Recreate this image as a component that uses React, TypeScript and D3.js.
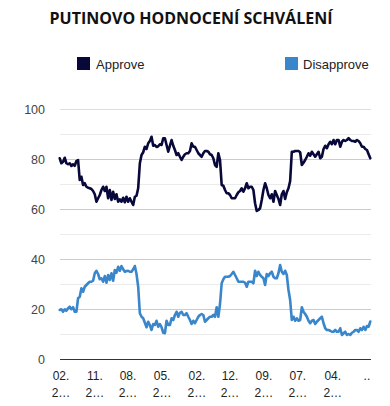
import React from "react";
import * as d3 from "d3";

const title = "PUTINOVO HODNOCENÍ SCHVÁLENÍ";
const seriesNames = ["Approve", "Disapprove"];
const seriesColors = ["#08083a", "#3a86cb"];

const approve = [
  80.3, 78.3, 78.9, 80.5, 78.3, 77.9, 78.3, 77.2, 77.9, 77.3, 79.2, 79.6, 71.6, 72.9, 69.6, 70.3,
  68.9, 68.5, 68.3, 68, 67.2, 65.9, 62.9, 64.3, 65.6, 67.6, 68.9, 67.2, 68.9, 64.3, 67.6, 63.6,
  66.9, 64, 65.9, 62.9, 63.9, 62.9, 64.5, 62.7, 64.9, 62.9, 64.3, 62.9, 61.6, 64.9, 65.3, 68.3,
  78.3, 81.6, 82.7, 84.9, 84, 86.3, 87.2, 88.9, 85.3, 85.6, 84.8, 85.1, 85.9, 85.6, 88.3,
  88.3, 85.6, 82.9, 85.3, 87.6, 85.3, 83.6, 81.6, 82.3, 80.9, 79.6, 80.9, 81.9, 82.3, 82.3, 83.2,
  86.3, 84.9, 84.9, 83.6, 82.3, 81.6, 80.9, 82.3, 83.2, 83.2, 82.9, 81.9, 81.6, 80.3, 77.6, 76.9,
  82.3, 79.6, 69.6, 69.3, 67.6, 66.3, 66.3, 65.6, 64.3, 64.3, 64.3, 65.6, 66.7, 67.2, 68.3, 66.9,
  68.3, 70.3, 68.3, 68.9, 68.9, 67.6, 62.3, 59.2, 59.6, 60.3, 63.6, 67.6, 70.3,
  68.3, 65.6, 64.3, 65.9, 62.9, 67.2, 65.6, 64, 61.6, 65.9, 67.2, 64, 66.7, 68.3, 71.2, 82.9,
  82.9, 83.2, 83.2, 83.2, 82.7, 77.6, 78.5, 79.6, 80.9, 82.3, 81.3, 82.9, 81.9, 80.9, 81.9, 82.9,
  80.3, 80.9, 84, 85.3, 84.3, 85.9, 86.9, 85.9, 87.6, 85.9, 87.6, 87.6, 84.9, 86.9, 87.6, 87.2,
  87.6, 88.3, 87.6, 87.2, 87.2, 86.9, 87.6, 87.2, 86.3, 84.9, 84.9, 84, 83.6, 81.9, 80.3,
];

const disapprove = [
  19.6, 19.9, 18.9, 19.9, 19.3, 20.3, 20.9, 19.9, 20.7, 18.9, 18.9, 24.3, 24.9, 28.3, 26.9, 28.9,
  29.6, 30.3, 30.9, 30.9, 31.3, 34.3, 35.3, 34, 31.9, 32.3, 30.9, 33.2, 30.5, 33.6, 31.6, 34.3,
  31.3, 35.6, 34.5, 36.9, 35.3, 37.2, 35.9, 34.9, 35.2, 35.3, 34.9, 34.9, 35.9, 37.2, 34, 28.9,
  18.3, 16.9, 16.3, 14.5, 12.7, 14.9, 13.6, 11.6, 14, 13.6, 15.3, 12.9, 14, 12.7, 10.5,
  10.3, 15.3, 13.6, 13.6, 16.3, 15.6, 17.6, 18.9, 16.9, 18.5, 18.9, 17.6, 17.6, 18.3, 16.9, 15.6,
  14, 15.3, 14.3, 15.6, 16.9, 17.6, 18, 17.6, 14.9, 15.6, 16.3, 16.9, 16.9, 17.6, 16.9, 20.7,
  16.9, 22, 30.3, 31.9, 32.9, 32.9, 32.9, 33.2, 34, 34.9, 33.6, 32.3, 30.9, 30.9, 30.9, 30.9,
  30.5, 28.9, 30.9, 30.9, 30.9, 30.3, 35.3, 33.2, 34.9, 33.6, 32.9, 32.3, 29.6,
  34, 33.2, 34.3, 34.9, 32.9, 32.3, 32.3, 34.3, 37.6, 34.9, 34, 35.3, 33.6, 27.6, 23.6, 15.6,
  16.9, 15.3, 16.3, 15.3, 15.6, 20.7, 18.9, 18, 16.9, 15.3, 14.3, 15.3, 15.6, 14, 14.9, 15.6,
  16.3, 16.9, 14.3, 12.3, 11.6, 11.6, 11.3, 10.9, 10.9, 11.6, 10.9, 10.9, 12.3, 9.6, 10.3, 10.9,
  9.6, 10, 9.6, 10.5, 10.9, 11.6, 11.6, 10.9, 12.3, 11.6, 12.9, 11.6, 13.2, 12.9, 15,
];

const xLabelTop = ["02.", "11.", "08.", "05.", "02.", "12.", "09.", "07.", "04.", ".."];
const xLabelBottom = ["2…", "2…", "2…", "2…", "2…", "2…", "2…", "2…", "2…", ""];
const xLabelIndex = [0.8, 21.1, 40.9, 61.3, 82.2, 102, 122.3, 142.6, 163.5, 184];
const yTicks = [0, 10, 20, 30, 40, 50, 60, 70, 80, 90, 100];
const yLabelTicks = [0, 20, 40, 60, 80, 100];

export default function App() {
  const W = 390;
  const H = 406;
  const left = 60;
  const right = 371;
  const n = Math.max(approve.length, disapprove.length);
  const x = d3.scaleLinear().domain([0, n - 1]).range([59.7, 370.3]);
  const y = d3.scaleLinear().domain([0, 100]).range([359, 109]);
  const line = d3
    .line<number>()
    .x((_, i) => x(i))
    .y((d) => y(d));
  const series = [approve, disapprove];
  const font = "Arial, 'Liberation Sans', sans-serif";

  return (
    <svg
      width={W}
      height={H}
      style={{ position: "absolute", left: 0, top: 0, background: "#fff" }}
      fontFamily={font}
    >
      <text
        x={191}
        y={24}
        textAnchor="middle"
        fontFamily="'Open Sans', sans-serif"
        fontWeight={700}
        fontSize={16}
        fill="#111"
      >
        {title}
      </text>

      {/* legend */}
      <rect x={77} y={57} width={13} height={13} fill={seriesColors[0]} />
      <text x={96} y={69} fontSize={13} fill="#222">
        {seriesNames[0]}
      </text>
      <rect x={285} y={57} width={13} height={13} fill={seriesColors[1]} />
      <text x={303} y={69} fontSize={13} fill="#222">
        {seriesNames[1]}
      </text>

      {/* gridlines */}
      {yTicks.map((t) => {
        const major = t % 20 === 0;
        let stroke = major ? "#cccccc" : "#ebebeb";
        if (t === 100) stroke = "#dddddd";
        if (t === 0) stroke = "#333333";
        return (
          <line
            key={t}
            x1={left}
            x2={right}
            y1={Math.round(y(t)) + 0.5}
            y2={Math.round(y(t)) + 0.5}
            stroke={stroke}
            strokeWidth={1}
          />
        );
      })}

      {yLabelTicks.map((t) => (
        <text key={t} x={45} y={y(t) + 4.5} textAnchor="end" fontSize={12.5} fill="#444">
          {t}
        </text>
      ))}

      {xLabelTop.map((lab, i) => (
        <g key={i}>
          <text x={x(xLabelIndex[i])} y={380} textAnchor="middle" fontSize={12} fill="#222">
            {lab}
          </text>
          <text x={x(xLabelIndex[i])} y={397} textAnchor="middle" fontSize={12} fill="#222">
            {xLabelBottom[i]}
          </text>
        </g>
      ))}

      {series.map((s, i) => (
        <path
          key={i}
          d={line(s) || ""}
          fill="none"
          stroke={seriesColors[i]}
          strokeWidth={2.6}
          strokeLinejoin="round"
          strokeLinecap="round"
        />
      ))}
    </svg>
  );
}
